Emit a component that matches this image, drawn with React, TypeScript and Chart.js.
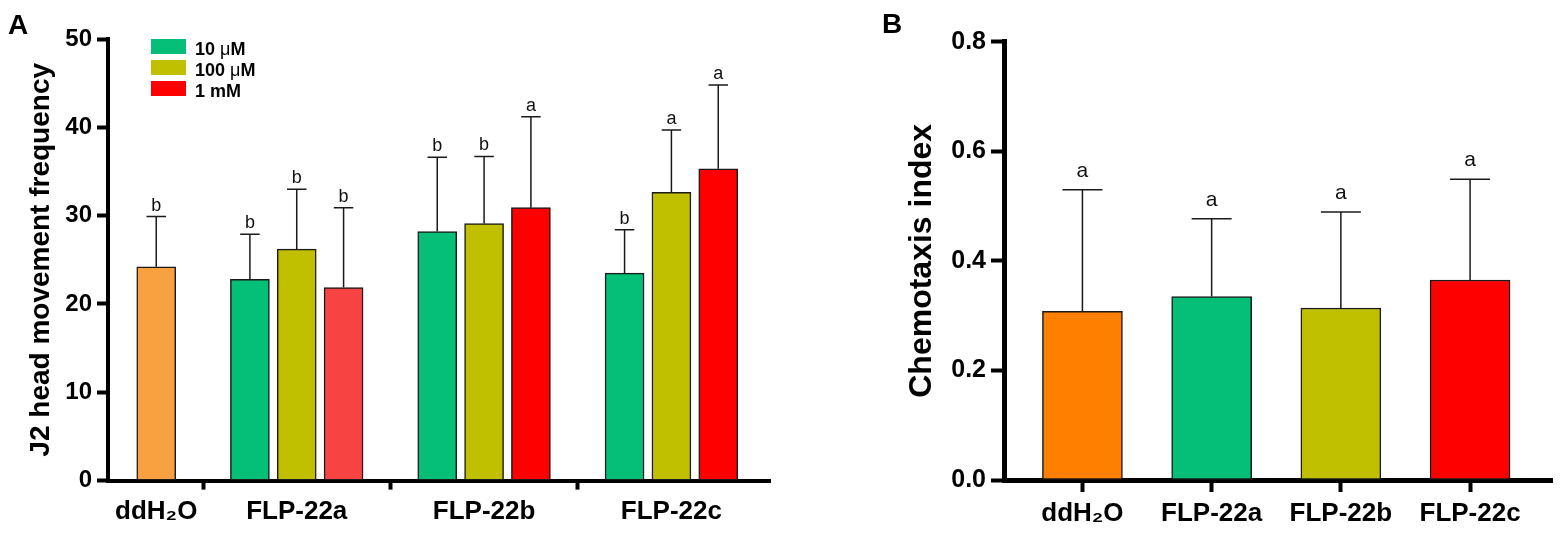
import { useEffect, useRef } from 'react';
import { Chart, registerables } from 'chart.js';

Chart.register(...registerables);

const FONT = '"Liberation Sans", Arial, Helvetica, sans-serif';

// ---------- panel A: J2 head movement frequency ----------
const groupLabelsA = ['ddH₂O', 'FLP-22a', 'FLP-22b', 'FLP-22c'];
const groupCentersA = [0, 3, 7, 11];
const groupSeparatorsA = [1, 5, 9];
const concentrations = ['10 μM', '100 μM', '1 mM'];
const concOffsets = [-1, 0, 1];

const controlMeanA = 24.2;
const controlSdA = 5.7;
const controlLetterA = 'b';

const mean10uM = [22.8, 28.2, 23.5];
const sd10uM = [5.1, 8.4, 4.9];
const letters10uM = ['b', 'b', 'b'];

const mean100uM = [26.2, 29.1, 32.65];
const sd100uM = [6.8, 7.6, 7.05];
const letters100uM = ['b', 'b', 'a'];

const mean1mM = [21.85, 30.9, 35.3];
const sd1mM = [9.05, 10.3, 9.5];
const letters1mM = ['b', 'a', 'a'];

// ---------- panel B: chemotaxis index ----------
const labelsB = ['ddH₂O', 'FLP-22a', 'FLP-22b', 'FLP-22c'];
const meansB = [0.308, 0.335, 0.314, 0.365];
const sdB = [0.222, 0.142, 0.175, 0.184];
const lettersB = ['a', 'a', 'a', 'a'];

const ORANGE_A = '#F9A140';
const ORANGE_B = '#FF7F00';
const GREEN = '#05BF78';
const OLIVE = '#C1C000';
const RED = '#FF0000';
const RED_LIGHT = '#F84343';
const concColors = [GREEN, OLIVE, RED];

// upper-only error bars with caps, and the significance letter above each
const errorBarPlugin = {
  id: 'errorBars',
  afterDatasetsDraw(chart: any, _args: any, opts: any) {
    const { ctx } = chart;
    const yScale = chart.scales.y;
    chart.data.datasets.forEach((ds: any, di: number) => {
      const meta = chart.getDatasetMeta(di);
      meta.data.forEach((bar: any, i: number) => {
        const sd = ds.sd?.[i];
        if (sd == null) return;
        const top = yScale.getPixelForValue(ds.data[i].y + sd);
        const half = bar.width / 4;
        ctx.save();
        ctx.strokeStyle = '#1a1a1a';
        ctx.lineWidth = 1.5;
        ctx.beginPath();
        ctx.moveTo(bar.x, bar.y);
        ctx.lineTo(bar.x, top);
        ctx.moveTo(bar.x - half, top);
        ctx.lineTo(bar.x + half, top);
        ctx.stroke();
        ctx.fillStyle = '#111';
        ctx.font = opts.font;
        ctx.textAlign = 'center';
        ctx.textBaseline = 'alphabetic';
        ctx.fillText(ds.letters[i], bar.x, top - opts.gap);
        ctx.restore();
      });
    });
  },
};

const barStyle = {
  borderColor: '#1a1a1a',
  borderWidth: 1.5,
  borderSkipped: false,
  grouped: false,
};

function buildA(): any {
  const datasets: any[] = [
    {
      label: groupLabelsA[0],
      data: [{ x: groupCentersA[0], y: controlMeanA }],
      sd: [controlSdA],
      letters: [controlLetterA],
      backgroundColor: ORANGE_A,
      barThickness: 39,
      ...barStyle,
    },
  ];
  const means = [mean10uM, mean100uM, mean1mM];
  const sds = [sd10uM, sd100uM, sd1mM];
  const letters = [letters10uM, letters100uM, letters1mM];
  concentrations.forEach((c, k) => {
    datasets.push({
      label: c,
      data: means[k].map((v, j) => ({ x: groupCentersA[j + 1] + concOffsets[k], y: v })),
      sd: sds[k],
      letters: letters[k],
      backgroundColor: k === 2 ? [RED_LIGHT, RED, RED] : concColors[k],
      barThickness: 39,
      ...barStyle,
    });
  });
  const ticksA = [...groupCentersA, ...groupSeparatorsA].sort((a, b) => a - b);
  return {
    type: 'bar',
    data: { datasets },
    plugins: [errorBarPlugin],
    options: {
      animation: false,
      responsive: true,
      maintainAspectRatio: false,
      layout: { padding: { top: 39, right: 9.3, left: 0, bottom: 0 } },
      plugins: {
        legend: { display: false },
        tooltip: { enabled: false },
        errorBars: { font: `18px ${FONT}`, gap: 6 },
      },
      scales: {
        x: {
          type: 'linear',
          min: -1.03,
          max: 13.12,
          offset: false,
          z: 1,
          afterBuildTicks: (s: any) => {
            s.ticks = ticksA.map((v) => ({ value: v }));
          },
          afterFit: (s: any) => {
            s.height = 56.4;
          },
          border: { display: true, color: '#000', width: 4 },
          grid: {
            offset: false,
            drawOnChartArea: false,
            drawTicks: true,
            tickLength: 9,
            tickWidth: 4,
            tickColor: (c: any) =>
              groupSeparatorsA.includes(c.tick?.value) ? '#000' : 'rgba(0,0,0,0)',
          },
          ticks: {
            autoSkip: false,
            maxRotation: 0,
            padding: 7,
            color: '#000',
            font: { family: FONT, size: 26, weight: 'bold' },
            callback: (v: any) => {
              const i = groupCentersA.indexOf(v);
              return i >= 0 ? groupLabelsA[i] : '';
            },
          },
        },
        y: {
          min: 0,
          max: 50,
          z: 1,
          afterFit: (s: any) => {
            s.width = 108;
          },
          border: { display: true, color: '#000', width: 4 },
          grid: { drawOnChartArea: false, tickLength: 11, tickWidth: 4, tickColor: '#000' },
          ticks: {
            stepSize: 10,
            padding: 5,
            color: '#000',
            font: { family: FONT, size: 24, weight: 'bold' },
          },
          title: {
            display: true,
            text: 'J2 head movement frequency',
            color: '#000',
            font: { family: FONT, size: 28, weight: 'bold' },
            padding: { top: 24, bottom: 0 },
          },
        },
      },
    },
  };
}

function buildB(): any {
  return {
    type: 'bar',
    data: {
      datasets: [
        {
          label: 'Chemotaxis index',
          data: meansB.map((v, i) => ({ x: i, y: v })),
          sd: sdB,
          letters: lettersB,
          backgroundColor: [ORANGE_B, GREEN, OLIVE, RED],
          barThickness: 80,
          ...barStyle,
        },
      ],
    },
    plugins: [errorBarPlugin],
    options: {
      animation: false,
      responsive: true,
      maintainAspectRatio: false,
      layout: { padding: { top: 41.7, right: 10, left: 0, bottom: 0 } },
      plugins: {
        legend: { display: false },
        tooltip: { enabled: false },
        errorBars: { font: `21px ${FONT}`, gap: 13 },
      },
      scales: {
        x: {
          type: 'linear',
          min: -0.607,
          max: 3.634,
          offset: false,
          z: 1,
          afterBuildTicks: (s: any) => {
            s.ticks = labelsB.map((_, i) => ({ value: i }));
          },
          afterFit: (s: any) => {
            s.height = 57;
          },
          border: { display: true, color: '#000', width: 5 },
          grid: {
            offset: false,
            drawOnChartArea: false,
            drawTicks: true,
            tickLength: 12,
            tickWidth: 4,
            tickColor: '#000',
          },
          ticks: {
            autoSkip: false,
            maxRotation: 0,
            padding: 6,
            color: '#000',
            font: { family: FONT, size: 26, weight: 'bold' },
            callback: (v: any) => labelsB[v] ?? '',
          },
        },
        y: {
          min: 0,
          max: 0.8,
          z: 1,
          afterFit: (s: any) => {
            s.width = 134;
          },
          border: { display: true, color: '#000', width: 5 },
          grid: { drawOnChartArea: false, tickLength: 13, tickWidth: 4, tickColor: '#000' },
          ticks: {
            stepSize: 0.2,
            padding: 5,
            color: '#000',
            font: { family: FONT, size: 25, weight: 'bold' },
            callback: (v: any) => Number(v).toFixed(1),
          },
          title: {
            display: true,
            text: 'Chemotaxis index',
            color: '#000',
            font: { family: FONT, size: 32, weight: 'bold' },
            padding: { top: 33, bottom: 0 },
          },
        },
      },
    },
  };
}

function ChartCanvas({ build, style }: { build: () => any; style: any }) {
  const ref = useRef<HTMLCanvasElement>(null);
  useEffect(() => {
    if (!ref.current) return;
    const chart = new Chart(ref.current, build());
    return () => chart.destroy();
  }, [build]);
  return (
    <div style={{ position: 'absolute', top: 0, height: 537, ...style }}>
      <canvas ref={ref} />
    </div>
  );
}

const panelLabel: any = {
  position: 'absolute',
  fontFamily: FONT,
  fontWeight: 'bold',
  fontSize: 28,
  lineHeight: 1,
  color: '#000',
};

export default function App() {
  return (
    <div
      style={{
        position: 'absolute',
        left: 0,
        top: 0,
        width: 1562,
        height: 537,
        background: '#fff',
        overflow: 'hidden',
        fontFamily: FONT,
      }}
    >
      <ChartCanvas build={buildA} style={{ left: 0, width: 780 }} />
      <ChartCanvas build={buildB} style={{ left: 870, width: 692 }} />

      <div style={{ ...panelLabel, left: 8, top: 11 }}>A</div>
      <div style={{ ...panelLabel, left: 882, top: 10 }}>B</div>

      {/* legend of panel A */}
      <div style={{ position: 'absolute', left: 151, top: 39 }}>
        {concentrations.map((c, k) => (
          <div key={c} style={{ position: 'absolute', left: 0, top: k * 21.2, width: 140, height: 16 }}>
            <div
              style={{
                position: 'absolute',
                left: 0,
                top: 0,
                width: 35,
                height: 14.5,
                background: concColors[k],
              }}
            />
            <span
              style={{
                position: 'absolute',
                left: 44,
                top: 1,
                fontSize: 18,
                lineHeight: '18px',
                fontWeight: 'bold',
                whiteSpace: 'nowrap',
                color: '#000',
              }}
            >
              {c.split('μ')[0]}
              {c.includes('μ') && <span style={{ fontWeight: 'normal' }}>μ</span>}
              {c.includes('μ') ? c.split('μ')[1] : ''}
            </span>
          </div>
        ))}
      </div>
    </div>
  );
}
